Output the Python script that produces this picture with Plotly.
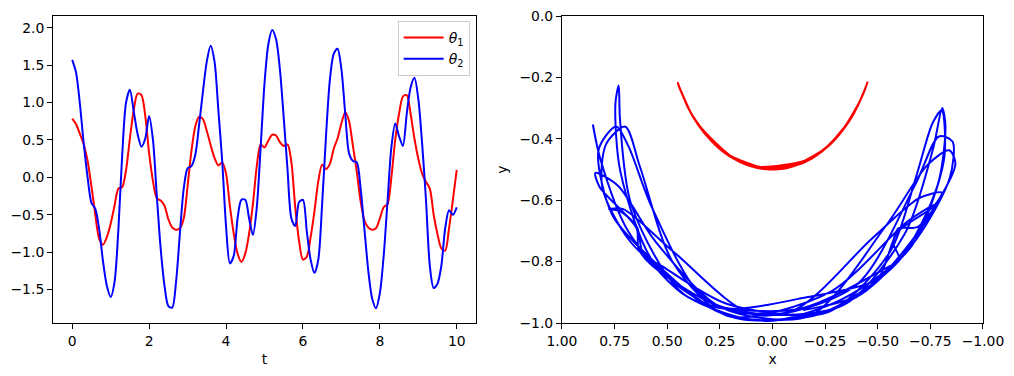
import numpy as np
import plotly.graph_objects as go

# time samples
t = [round(0.1 * i, 1) for i in range(101)]

# theta1 (red)
theta1 = [0.785, 0.71, 0.58, 0.44, 0.22, -0.12, -0.50, -0.82, -0.90, -0.80,
          -0.62, -0.38, -0.15, -0.13, 0.10, 0.52, 0.90, 1.12, 1.10, 0.82,
          0.32, -0.05, -0.28, -0.31, -0.38, -0.56, -0.67, -0.70, -0.68, -0.55,
          -0.12, 0.35, 0.68, 0.81, 0.78, 0.62, 0.43, 0.26, 0.16, 0.20,
          0.05, -0.38, -0.75, -1.02, -1.13, -1.02, -0.75, -0.35, 0.15, 0.44,
          0.40, 0.49, 0.57, 0.56, 0.47, 0.42, 0.44, 0.20, -0.40, -0.85,
          -1.10, -1.06, -0.80, -0.45, -0.05, 0.17, 0.11, 0.18, 0.38, 0.52,
          0.72, 0.87, 0.75, 0.42, 0.08, -0.32, -0.58, -0.67, -0.70, -0.68,
          -0.55, -0.40, -0.36, 0.00, 0.50, 0.85, 1.08, 1.10, 0.85, 0.52,
          0.25, 0.05, -0.06, -0.15, -0.50, -0.76, -0.95, -0.98, -0.68, -0.30,
          0.10]

# theta2 (blue)
theta2 = [1.571, 1.40, 0.98, 0.45, 0.00, -0.34, -0.42, -0.69, -1.12, -1.45,
          -1.60, -1.40, -0.70, 0.30, 1.00, 1.17, 0.88, 0.58, 0.41, 0.52,
          0.82, 0.50, -0.25, -0.95, -1.45, -1.72, -1.74, -1.40, -0.75, -0.15,
          0.12, 0.15, 0.30, 0.70, 1.15, 1.55, 1.76, 1.55, 0.90, 0.22,
          -0.65, -1.15, -1.05, -0.55, -0.30, -0.30, -0.55, -0.77, -0.40, 0.40,
          1.25, 1.78, 1.97, 1.85, 1.45, 0.80, 0.10, -0.55, -0.65, -0.33,
          -0.30, -0.72, -1.10, -1.28, -1.10, -0.35, 0.55, 1.30, 1.65, 1.72,
          1.45, 0.85, 0.32, 0.22, 0.20, -0.15, -0.70, -1.25, -1.62, -1.75,
          -1.55, -1.05, -0.32, 0.40, 0.72, 0.55, 0.42, 0.85, 1.20, 1.33,
          1.05, 0.45, -0.30, -1.18, -1.48, -1.42, -1.18, -0.68, -0.44, -0.50,
          -0.40]

L1 = 0.5
L2 = 0.5

th1 = np.array(theta1)
th2 = np.array(theta2)
x1 = L1 * np.sin(th1)
y1 = -L1 * np.cos(th1)
x2 = x1 + L2 * np.sin(th2)
y2 = y1 - L2 * np.cos(th2)

left_xticks = [0, 2, 4, 6, 8, 10]
left_yticks = [-1.5, -1.0, -0.5, 0.0, 0.5, 1.0, 1.5, 2.0]
right_xticks = [1.0, 0.75, 0.5, 0.25, 0.0, -0.25, -0.5, -0.75, -1.0]
right_yticks = [0.0, -0.2, -0.4, -0.6, -0.8, -1.0]

fig = go.Figure()
fig.add_trace(go.Scatter(x=t, y=theta1, mode="lines", name="<i>θ</i><sub>1</sub>",
                         line=dict(color="#ff0000", width=2, shape="spline", smoothing=0.8),
                         xaxis="x", yaxis="y"))
fig.add_trace(go.Scatter(x=t, y=theta2, mode="lines", name="<i>θ</i><sub>2</sub>",
                         line=dict(color="#0000ff", width=2, shape="spline", smoothing=0.8),
                         xaxis="x", yaxis="y"))
fig.add_trace(go.Scatter(x=x1, y=y1, mode="lines", showlegend=False,
                         line=dict(color="#ff0000", width=2, shape="spline", smoothing=0.8),
                         xaxis="x2", yaxis="y2"))
fig.add_trace(go.Scatter(x=x2, y=y2, mode="lines", showlegend=False,
                         line=dict(color="#0000ff", width=2, shape="spline", smoothing=0.8),
                         xaxis="x2", yaxis="y2"))

axis_common = dict(showline=True, mirror=True, linecolor="black", linewidth=1,
                   ticks="outside", ticklen=5, tickwidth=1, tickcolor="black",
                   showgrid=False, zeroline=False, automargin=False,
                   ticklabeloverflow="allow",
                   tickfont=dict(family="DejaVu Sans", size=13.9, color="black"),
                   title_font=dict(family="DejaVu Sans", size=13.9, color="black"))

# page body has an 8px default margin, so the figure is sized/offset for it
fig.update_layout(
    width=1006, height=368,
    margin=dict(l=45, r=31, t=8, b=53),
    paper_bgcolor="white", plot_bgcolor="white",
    font=dict(family="DejaVu Sans", size=13.9, color="black"),
    xaxis=dict(domain=[0, 0.4548], range=[-0.5, 10.5], tickvals=left_xticks,
               title=dict(text="t", standoff=6), anchor="y", **axis_common),
    yaxis=dict(domain=[0, 1], range=[-1.947, 2.157], tickvals=left_yticks,
               tickformat=".1f", anchor="x", **axis_common),
    xaxis2=dict(domain=[0.5473, 1], range=[1, -1], tickvals=right_xticks,
                tickformat=".2f", title=dict(text="x", standoff=6), anchor="y2", **axis_common),
    yaxis2=dict(domain=[0, 1], range=[-1, 0], tickvals=right_yticks,
                tickformat=".1f", title=dict(text="y", standoff=8), anchor="x2", **axis_common),
    legend=dict(x=0.448, y=0.984, xanchor="right", yanchor="top",
                bgcolor="rgba(255,255,255,0.8)", bordercolor="#cccccc", borderwidth=1,
                font=dict(family="DejaVu Sans", size=14, color="black"),
                itemwidth=40, tracegroupgap=2),
)

fig.write_html("out.html")
